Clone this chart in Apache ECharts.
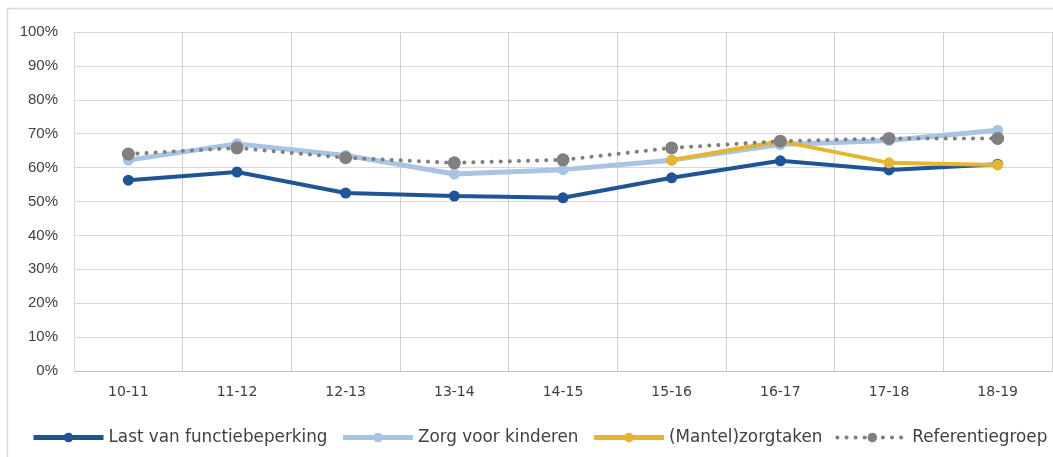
<!DOCTYPE html>
<html><head><meta charset="utf-8">
<script src="https://cdn.jsdelivr.net/npm/echarts@6/dist/echarts.min.js"></script>
<style>html,body{margin:0;padding:0;background:#fff}#c{width:1053px;height:457px}</style>
</head><body><div id="c"></div>
<script>
const categories = ['10-11','11-12','12-13','13-14','14-15','15-16','16-17','17-18','18-19'];
const functiebeperking = [56.3, 58.7, 52.5, 51.6, 51.1, 57.0, 62.0, 59.3, 61.0];
const kinderen = [62.2, 67.0, 63.6, 58.1, 59.4, 62.2, 66.8, 68.0, 71.0];
const mantelzorg = [null, null, null, null, null, 62.2, 67.8, 61.4, 60.8];
const referentie = [64.0, 65.8, 62.9, 61.4, 62.3, 65.8, 67.8, 68.6, 68.6];
const yTicks = [0,10,20,30,40,50,60,70,80,90,100];

const chart = echarts.init(document.getElementById('c'));
const legendFont = {fontFamily:'DejaVu Sans', fontSize:16.8, color:'#404040'};
chart.setOption({
  animation:false,
  graphic:[{type:'rect', shape:{x:7.5,y:8.5,width:1100,height:500}, style:{fill:'none', stroke:'#d9d9d9', lineWidth:1.5}, silent:true, z:-10}],
  grid:{left:74, right:1, top:32, bottom:86},
  xAxis:{type:'category', data:categories, boundaryGap:true,
    axisLine:{show:true, lineStyle:{color:'#bfbfbf', width:1}},
    axisTick:{show:false},
    splitLine:{show:true, lineStyle:{color:'#d0d0d0', width:1}},
    axisLabel:{color:'#404040', fontFamily:'DejaVu Sans', fontSize:14, margin:14}},
  yAxis:{type:'value', min:0, max:100, interval:10,
    axisLine:{show:true, lineStyle:{color:'#d9d9d9'}},
    axisTick:{show:false},
    splitLine:{lineStyle:{color:'#d9d9d9', width:1}},
    axisLabel:{color:'#404040', fontFamily:'Liberation Sans', fontSize:15, margin:16,
      formatter:v=>yTicks.includes(v)? v+'%':''}},
  legend:{bottom:11, left:31, width:1022, padding:0, itemWidth:70, itemHeight:12, itemGap:13,
    textStyle:legendFont,
    data:[
      {name:'Last van functiebeperking', lineStyle:{width:5}},
      {name:'Zorg voor kinderen', lineStyle:{width:5}},
      {name:'(Mantel)zorgtaken', lineStyle:{width:5}},
      {name:'Referentiegroep', lineStyle:{width:4}}
    ]},
  series:[
    {name:'Last van functiebeperking', type:'line', data:functiebeperking, symbol:'circle', symbolSize:11,
     lineStyle:{color:'#1F5496', width:4}, itemStyle:{color:'#1F5496'}, z:2},
    {name:'Zorg voor kinderen', type:'line', data:kinderen, symbol:'circle', symbolSize:11,
     lineStyle:{color:'#A9C3E3', width:5}, itemStyle:{color:'#A9C3E3'}, z:3},
    {name:'(Mantel)zorgtaken', type:'line', data:mantelzorg, symbol:'circle', symbolSize:11, connectNulls:false,
     lineStyle:{color:'#E5B431', width:4}, itemStyle:{color:'#E5B431'}, z:4},
    {name:'Referentiegroep', type:'line', data:referentie, symbol:'circle', symbolSize:13,
     lineStyle:{color:'#7f7f7f', width:4, type:[0.1,9], cap:'round'}, itemStyle:{color:'#808080'}, z:5}
  ]
});
</script></body></html>
